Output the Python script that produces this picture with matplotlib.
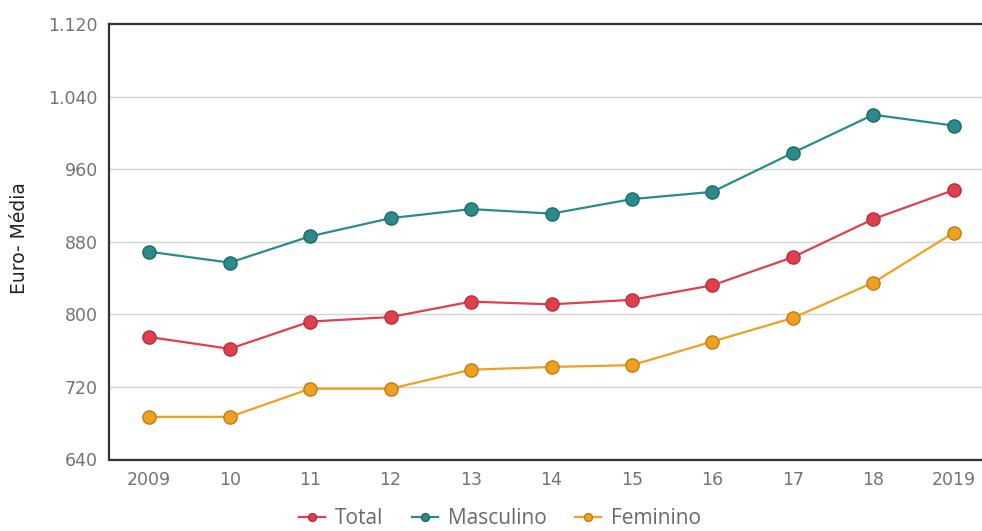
import matplotlib
matplotlib.use("Agg")
import matplotlib.pyplot as plt
from matplotlib.ticker import FuncFormatter

years = ["2009", "10", "11", "12", "13", "14", "15", "16", "17", "18", "2019"]
total = [775, 762, 792, 797, 814, 811, 816, 832, 863, 905, 937]
masculino = [869, 857, 886, 906, 916, 911, 927, 935, 978, 1020, 1008]
feminino = [687, 687, 718, 718, 739, 742, 744, 770, 796, 835, 890]

series = [
    ("Total", total, "#e0404e", "#b5303c"),
    ("Masculino", masculino, "#2a8c8a", "#1f6a68"),
    ("Feminino", feminino, "#f0a020", "#c07d10"),
]

plt.rcParams['font.family'] = ['DejaVu Sans']

fig = plt.figure(figsize=(9.82, 5.31), dpi=100)
L, R, T, B = 109, 994, 24, 459.5
ax = fig.add_axes([L / 982, (531 - B) / 531, (R - L) / 982, (B - T) / 531])

x = list(range(len(years)))
for name, vals, c, ec in series:
    ax.plot(x, vals, color=c, lw=1.6, marker="o", markersize=9.5,
            markerfacecolor=c, markeredgecolor=ec, markeredgewidth=1.0,
            label=name, zorder=3)

ax.set_xlim(-0.5, len(years) - 0.5)
ax.set_ylim(640, 1120)
ax.set_yticks(range(640, 1121, 80))
ax.yaxis.set_major_formatter(FuncFormatter(lambda v, p: f"{int(v):,}".replace(",", ".")))
ax.set_xticks(x)
ax.set_xticklabels(years)
ax.tick_params(axis="both", length=0, labelsize=12.5, colors="#737373")
ax.tick_params(axis="x", pad=8)
ax.tick_params(axis="y", pad=8)
ax.grid(axis="y", color="#d4d4d4", lw=1.0)
ax.set_axisbelow(True)
for s in ["left", "bottom", "top"]:
    ax.spines[s].set_color("#333333")
    ax.spines[s].set_linewidth(1.6)
ax.spines["right"].set_visible(False)

fig.text(20 / 982, (531 - 238) / 531, "Euro- Média", rotation=90, ha="center",
         va="center", fontsize=13.5, color="#222222")

leg = fig.legend(loc="center", bbox_to_anchor=(500 / 982, 12 / 531), ncol=3,
                 frameon=False, prop={"family": ["Open Sans", "DejaVu Sans"], "size": 15},
                 markerscale=0.6, handlelength=1.25,
                 columnspacing=1.4, handletextpad=0.45, borderpad=0.1)
for t in leg.get_texts():
    t.set_color("#6a6a6a")

fig.savefig("out.png", dpi=100)
